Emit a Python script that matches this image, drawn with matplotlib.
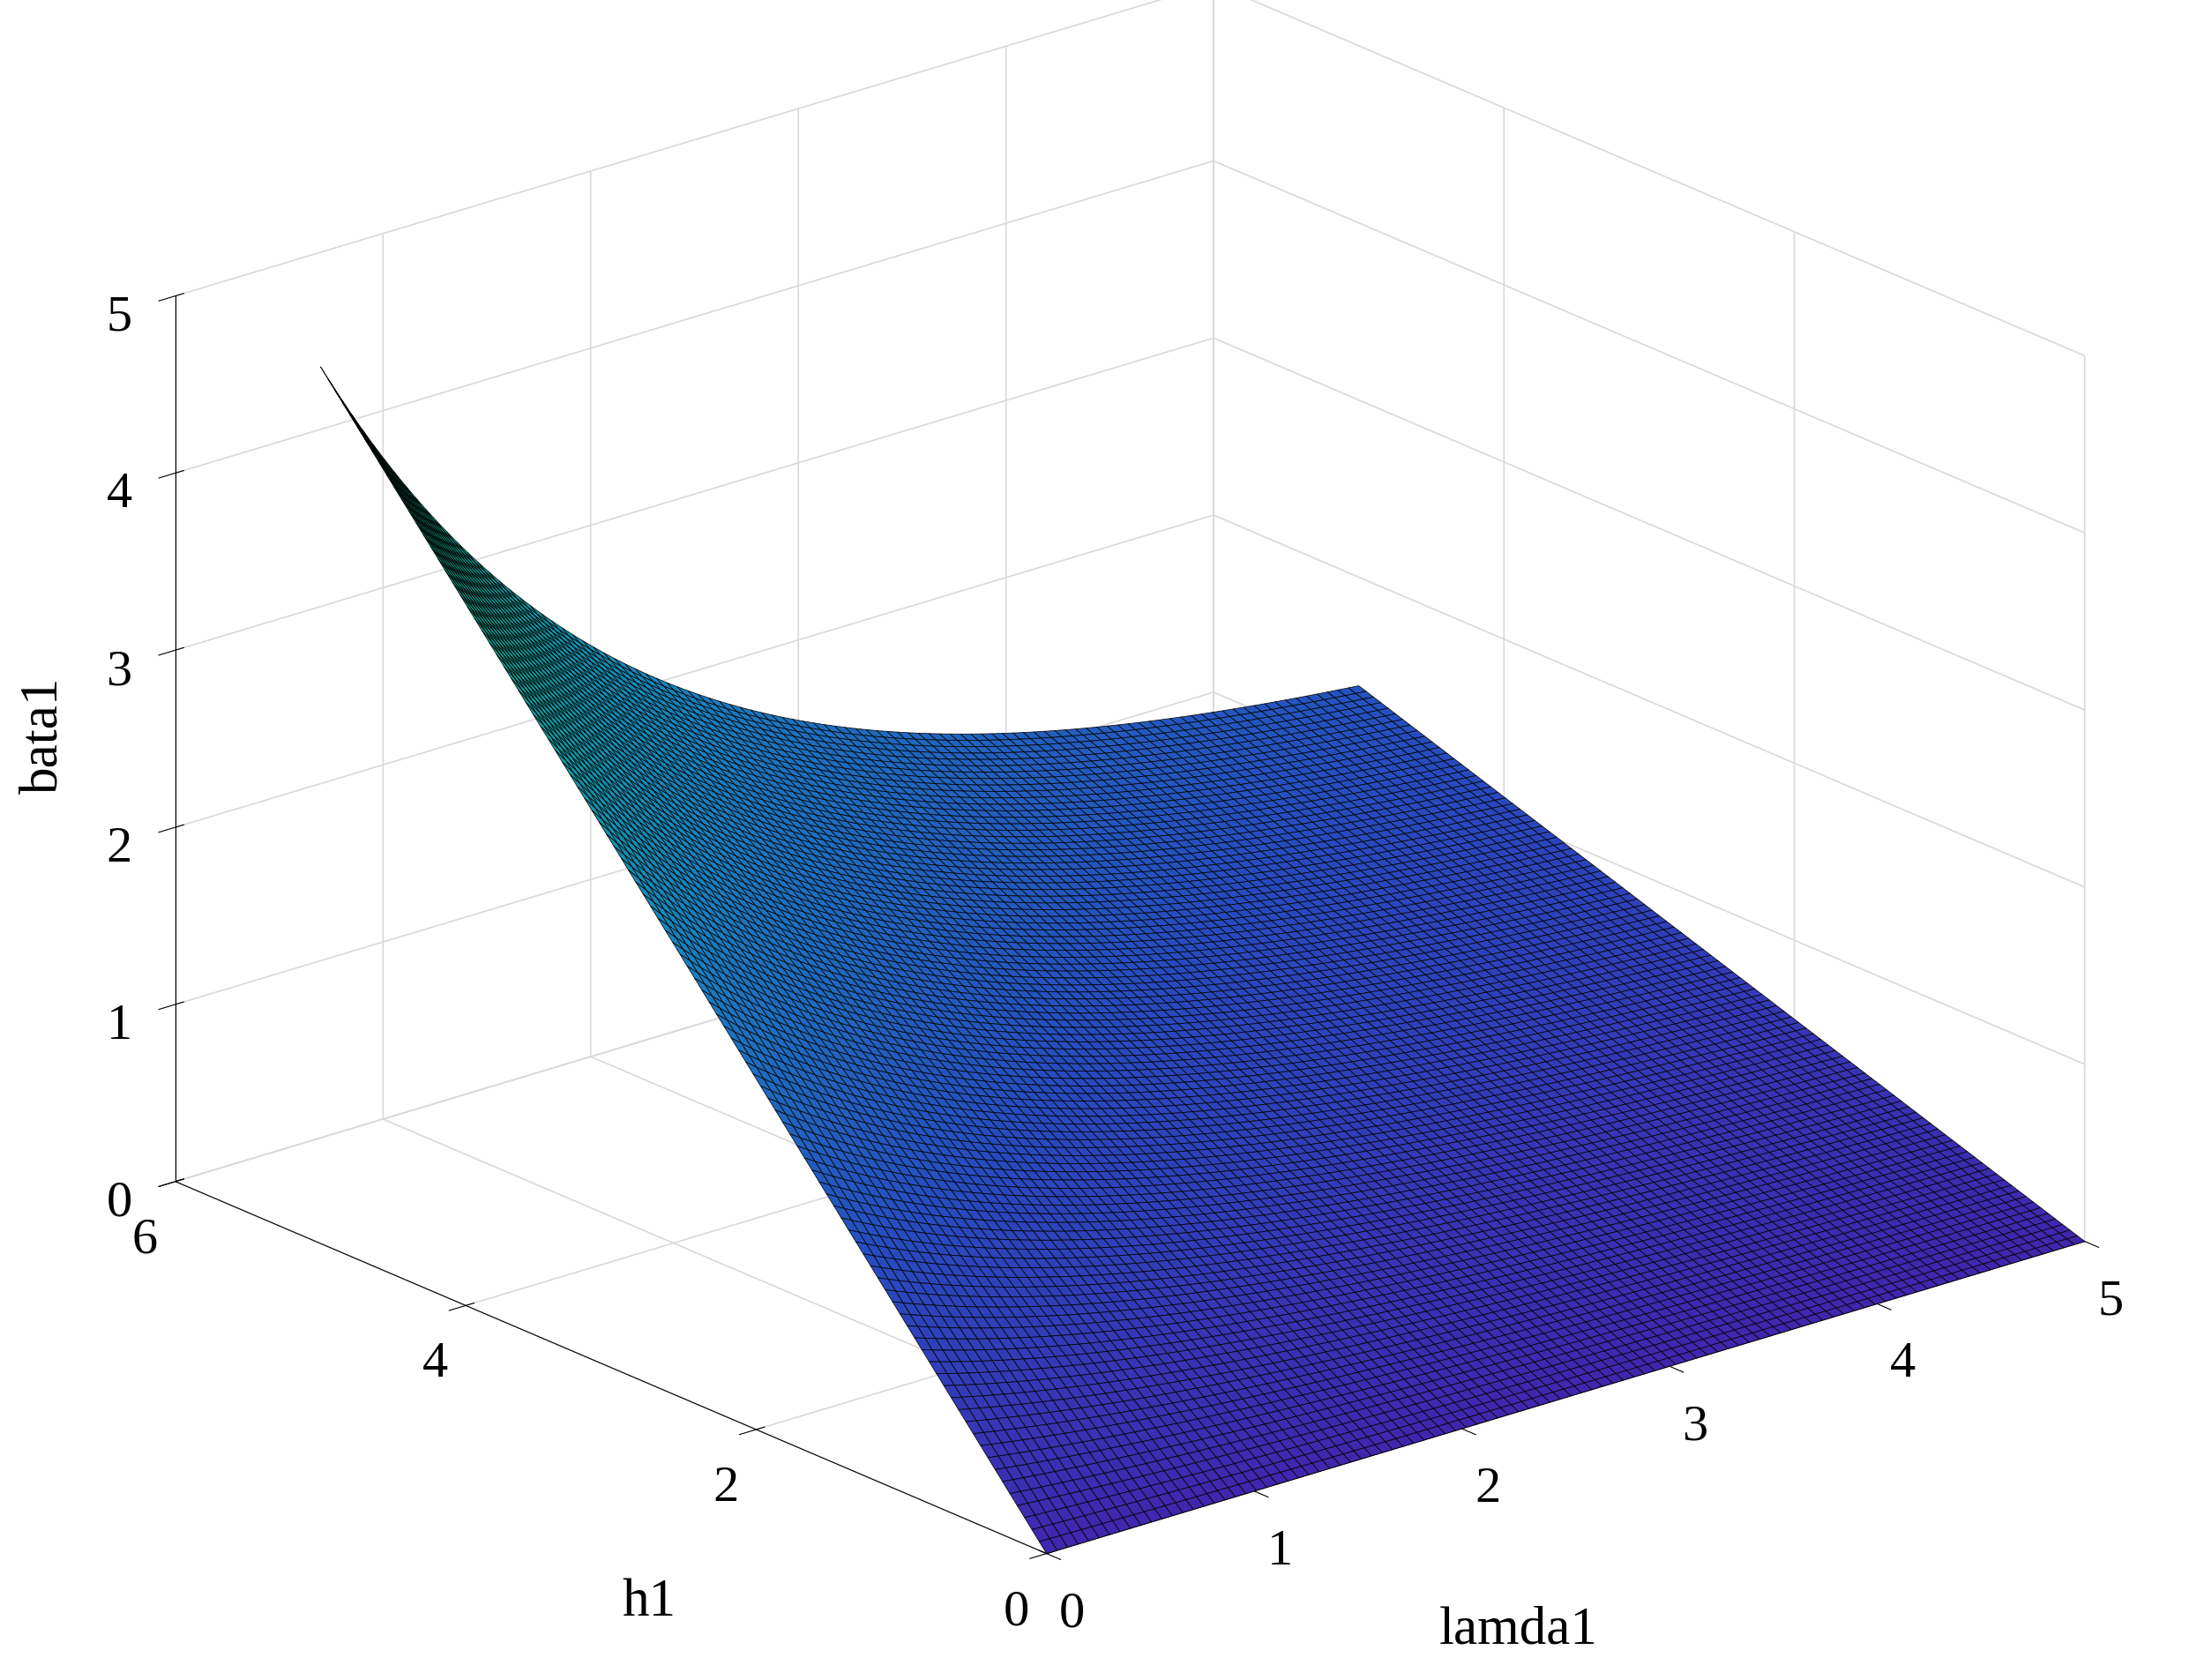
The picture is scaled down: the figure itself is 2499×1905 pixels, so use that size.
import numpy as np
import matplotlib
matplotlib.use("Agg")
import matplotlib.pyplot as plt
from matplotlib.colors import LinearSegmentedColormap

plt.rcParams['font.family'] = ['Liberation Serif', 'DejaVu Serif']

lamda_range = [0, 5]
h_range = [0, 5]
x_ticks = [0, 1, 2, 3, 4, 5]
y_ticks = [0, 2, 4, 6]
z_ticks = [0, 1, 2, 3, 4, 5]
# bata1 = h1 * (base + amp * exp(-rate * lamda1))
base, amp, rate = 0.24, 0.75, 0.6

lam = np.linspace(*lamda_range, 100)
h = np.linspace(*h_range, 100)
L, H = np.meshgrid(lam, h)
Z = H * (base + amp * np.exp(-rate * L))

cmap = LinearSegmentedColormap.from_list('p', [(0.25, 0.15, 0.68), (0.15, 0.3, 0.75), (0.1, 0.5, 0.75), (0.05, 0.65, 0.6), (0.1, 0.7, 0.45)])

fig = plt.figure(figsize=(24.99, 19.06), dpi=100)
ax = fig.add_axes([-0.17, -0.092, 1.34, 1.235], projection='3d', proj_type='ortho')
ax.set_box_aspect((4, 4, 2.8))
ax.plot_surface(L, H, Z, cmap=cmap, vmin=0, vmax=4.9, edgecolor=(0, 0, 0, 0.9), linewidth=0.6,
                rstride=1, cstride=1, antialiased=True)
ax.view_init(elev=21, azim=-130)
ax.set_xlim(0, 5); ax.set_ylim(0, 6); ax.set_zlim(0, 5)
ax.set_xticks(x_ticks); ax.set_yticks(y_ticks); ax.set_zticks(z_ticks)
ax.set_xlabel(''); ax.set_ylabel('')
ax.set_zlabel('bata1', fontsize=44, labelpad=40)
fig.text(1080 / 1568, 1 - 1160 / 1196, 'lamda1', fontsize=44, ha='center', va='center')
fig.text(462 / 1568, 1 - 1140 / 1196, 'h1', fontsize=44, ha='center', va='center')
ax.tick_params(labelsize=42, pad=18)
for a in (ax.xaxis, ax.yaxis, ax.zaxis):
    a.set_pane_color((1, 1, 1, 0))
    a._axinfo['grid']['color'] = (0.85, 0.85, 0.85, 1)
    a._axinfo['grid']['linewidth'] = 1.2
fig.savefig('out.png', dpi=100)
